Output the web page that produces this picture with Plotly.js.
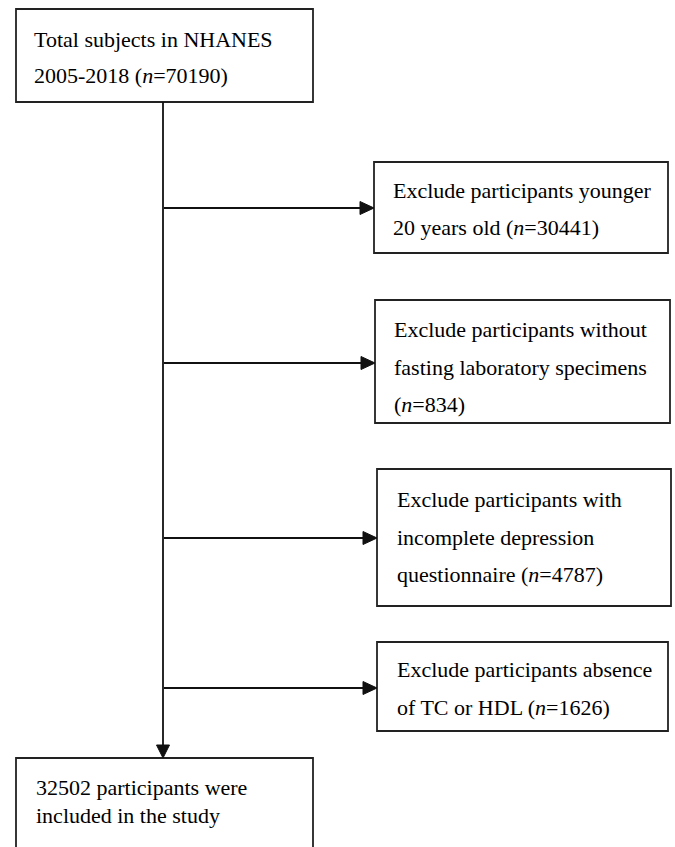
<!DOCTYPE html>
<html>
<head>
<meta charset="utf-8">
<script src="https://cdn.plot.ly/plotly-3.0.1.min.js"></script>
<style>html,body{margin:0;padding:0;background:#fff;}#chart{width:675px;height:847px;}</style>
</head>
<body>
<div id="chart"></div>
<script>
// ---- data ----
const totalLabel = ["Total subjects in NHANES", "2005-2018 (<i>n</i>=NVAL)"];
const totalN = 70190;
const excludeLabels = [
  ["Exclude participants younger", "20 years old (<i>n</i>=NVAL)"],
  ["Exclude participants without", "fasting laboratory specimens", "(<i>n</i>=NVAL)"],
  ["Exclude participants with", "incomplete depression", "questionnaire (<i>n</i>=NVAL)"],
  ["Exclude participants absence", "of TC or HDL (<i>n</i>=NVAL)"]
];
const excludeN = [30441, 834, 4787, 1626];
const finalLabel = ["NVAL participants were", "included in the study"];
const finalN = 32502;

// ---- layout geometry (pixels) ----
const W = 675, H = 847;
const lineColor = "#111111";
const boxColor = "#222222";
const font = {family: "Liberation Serif, Times New Roman, serif", size: 22, color: "#000000"};
const spineX = 163;
const topBox = {x0: 16, x1: 313, y0: 9, y1: 102, tx: 33, base: [47, 83]};
const exBoxes = [
  {x0: 374, x1: 668, y0: 162, y1: 253, tx: 392, base: [198, 235], ay: 208},
  {x0: 375, x1: 670, y0: 300, y1: 423, tx: 393, base: [337, 375, 412], ay: 363},
  {x0: 377, x1: 671, y0: 469, y1: 606, tx: 396, base: [507, 545, 582], ay: 538},
  {x0: 377, x1: 668, y0: 642, y1: 731, tx: 396, base: [677, 715], ay: 688}
];
const finalBox = {x0: 16, x1: 313, y0: 758, y1: 870, tx: 35, base: [795, 823]};

const shapes = [];
const annotations = [];
function addBox(b, lines, n) {
  shapes.push({type: "rect", xref: "x", yref: "y", x0: b.x0, x1: b.x1, y0: b.y0, y1: b.y1,
    line: {color: boxColor, width: 1.8}, fillcolor: "rgba(0,0,0,0)"});
  lines.forEach((t, i) => {
    annotations.push({xref: "x", yref: "y", x: b.tx, y: b.base[i] - 7.5, xanchor: "left", yanchor: "middle",
      text: t.replace("NVAL", String(n)), showarrow: false, font: font, borderpad: 0});
  });
}
addBox(topBox, totalLabel, totalN);
excludeLabels.forEach((lines, i) => addBox(exBoxes[i], lines, excludeN[i]));
addBox(finalBox, finalLabel, finalN);

// spine
shapes.push({type: "line", xref: "x", yref: "y", x0: spineX, x1: spineX, y0: topBox.y1, y1: finalBox.y0 - 12,
  line: {color: lineColor, width: 1.8}});
// down arrowhead
shapes.push({type: "path", xref: "x", yref: "y",
  path: `M ${spineX - 6.5} ${finalBox.y0 - 13} L ${spineX + 6.5} ${finalBox.y0 - 13} L ${spineX} ${finalBox.y0} Z`,
  fillcolor: lineColor, line: {color: lineColor, width: 1}});
// branch arrows
exBoxes.forEach(b => {
  shapes.push({type: "line", xref: "x", yref: "y", x0: spineX + 1, x1: b.x0 - 13, y0: b.ay, y1: b.ay,
    line: {color: lineColor, width: 1.8}});
  shapes.push({type: "path", xref: "x", yref: "y",
    path: `M ${b.x0 - 14} ${b.ay - 6.5} L ${b.x0 - 14} ${b.ay + 6.5} L ${b.x0} ${b.ay} Z`,
    fillcolor: lineColor, line: {color: lineColor, width: 1}});
});

const layout = {
  width: W, height: H,
  margin: {l: 0, r: 0, t: 0, b: 0, pad: 0},
  paper_bgcolor: "#ffffff", plot_bgcolor: "#ffffff",
  showlegend: false,
  xaxis: {range: [0, W], visible: false, fixedrange: true},
  yaxis: {range: [H, 0], visible: false, fixedrange: true},
  shapes: shapes,
  annotations: annotations
};
Plotly.newPlot("chart", [{x: [], y: [], type: "scatter", mode: "markers", hoverinfo: "skip"}], layout,
  {displayModeBar: false, staticPlot: true});
</script>
</body>
</html>
